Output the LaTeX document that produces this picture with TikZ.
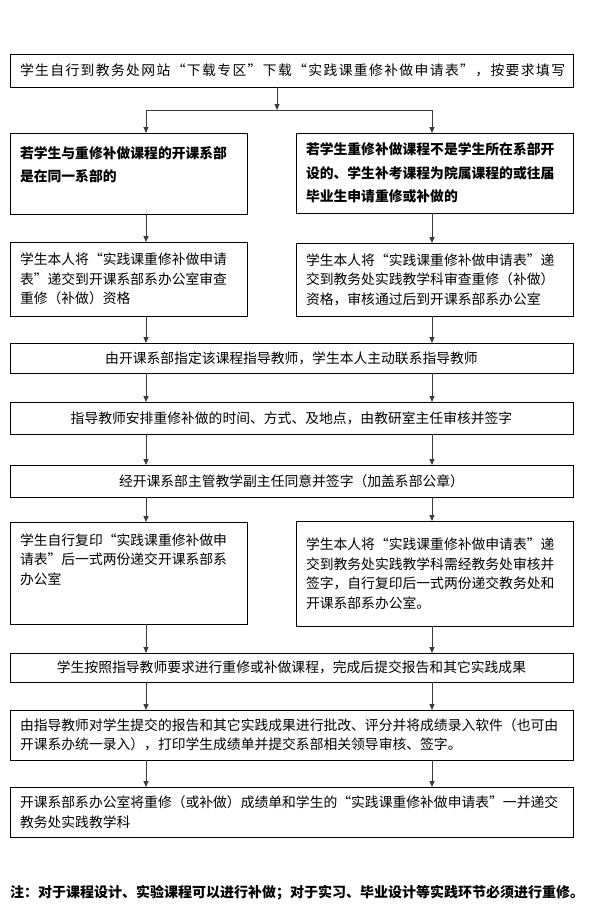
\documentclass[tikz,border=0pt]{standalone}
\usepackage{fontspec}
\setmainfont{Noto Sans CJK SC}
\usepackage{tikz}
\usetikzlibrary{
  arrows.meta,
  positioning
}
\definecolor{LineGray}{RGB}{60, 60, 60}

\begin{document}
\begin{tikzpicture}[
        x=1pt, y=-1pt,
        every node/.style={font=\fontsize{13.8}{19.5}\selectfont},
        % boxes of the flow chart, fixed widths
        box/.style={rectangle, draw=black, line width=0.8pt, outer sep=0pt, inner xsep=10pt, inner ysep=0pt, align=left},
        wide/.style={box, text width=543pt},
        lbox/.style={box, text width=217pt},
        rbox/.style={box, text width=257pt},
        strong/.style={font=\fontsize{13.8}{23.5}\selectfont\bfseries},
        arrow/.style={draw=LineGray, line width=0.8pt, -{Triangle[width=5pt,length=6pt]}}
    ]

    \path[fill=white] (0,0) rectangle (590,921);

    % columns of the connectors
    \coordinate (lcol) at (146,0);
    \coordinate (rcol) at (432,0);
    \coordinate (mcol) at (277,0);
    \coordinate (split) at (277,110);

    % Top node
    \node[wide, align=center, minimum height=33pt, anchor=north west] (apply) at (10,54)
        {\addfontfeatures{LetterSpace=10}学生自行到教务处网站“下载专区”下载“实践课重修补做申请表”，按要求填写};

    % Two cases
    \node[lbox, strong, text height=25pt, text depth=56pt, below=46pt of apply.south west, anchor=north west] (l2)
        {若学生与重修补做课程的开课系部\\是在同一系部的};
    \node[rbox, strong, minimum height=80pt, below=46pt of apply.south east, anchor=north east] (r2)
        {若学生重修补做课程不是学生所在系部开\\设的、学生补考课程为院属课程的或往届\\毕业生申请重修或补做的};

    \node[lbox, minimum height=74pt, below=28pt of l2.south west, anchor=north west] (l3)
        {学生本人将“实践课重修补做申请\\表”递交到开课系部系办公室审查\\重修（补做）资格};
    \node[rbox, minimum height=73pt, below=30pt of r2.south east, anchor=north east] (r3)
        {学生本人将“实践课重修补做申请表”递\\交到教务处实践教学科审查重修（补做）\\资格，审核通过后到开课系部系办公室};

    % Common steps
    \node[wide, align=center, minimum height=30pt, below=27pt of l3.south west, anchor=north west] (b4)
        {由开课系部指定该课程指导教师，学生本人主动联系指导教师};
    \node[wide, align=center, minimum height=32pt, below=29pt of b4] (b5)
        {指导教师安排重修补做的时间、方式、及地点，由教研室主任审核并签字};
    \node[wide, align=center, minimum height=32pt, below=31pt of b5] (b6)
        {经开课系部主管教学副主任同意并签字（加盖系部公章）};

    \node[lbox, text height=23pt, text depth=79pt, below=25pt of b6.south west, anchor=north west] (l7)
        {学生自行复印“实践课重修补做申\\请表”后一式两份递交开课系部系\\办公室};
    \node[rbox, minimum height=105pt, below=24pt of b6.south east, anchor=north east] (r7)
        {学生本人将“实践课重修补做申请表”递\\交到教务处实践教学科需经教务处审核并\\签字，自行复印后一式两份递交教务处和\\开课系部系办公室。};

    \node[wide, align=center, minimum height=29pt, below=29pt of l7.south west, anchor=north west] (b8)
        {学生按照指导教师要求进行重修或补做课程，完成后提交报告和其它实践成果};
    \node[wide, minimum height=50pt, below=28pt of b8] (b9)
        {由指导教师对学生提交的报告和其它实践成果进行批改、评分并将成绩录入软件（也可由\\开课系办统一录入），打印学生成绩单并提交系部相关领导审核、签字。};
    \node[wide, minimum height=50pt, below=27pt of b9] (b10)
        {开课系部系办公室将重修（或补做）成绩单和学生的“实践课重修补做申请表”一并递交\\教务处实践教学科};

    % Note
    \node[anchor=west, inner sep=0pt, font=\fontsize{14}{16}\selectfont\bfseries] (note) at (10,893)
        {注：对于课程设计、实验课程可以进行补做；对于实习、毕业设计等实践环节必须进行重修。};

    % Arrows
    \draw[arrow] (apply.south -| mcol) -- (split);
    \draw[arrow] (split) -| (l2.north -| lcol);
    \draw[arrow] (split) -| (r2.north -| rcol);
    \draw[arrow] (l2.south -| lcol) -- (l3.north -| lcol);
    \draw[arrow] (r2.south -| rcol) -- (r3.north -| rcol);
    \draw[arrow] (l3.south -| lcol) -- (b4.north -| lcol);
    \draw[arrow] (r3.south -| rcol) -- (b4.north -| rcol);
    \draw[arrow] (b4.south -| lcol) -- (b5.north -| lcol);
    \draw[arrow] (b4.south -| rcol) -- (b5.north -| rcol);
    \draw[arrow] (b5.south -| lcol) -- (b6.north -| lcol);
    \draw[arrow] (b5.south -| rcol) -- (b6.north -| rcol);
    \draw[arrow] (b6.south -| lcol) -- (l7.north -| lcol);
    \draw[arrow] (b6.south -| rcol) -- (r7.north -| rcol);
    \draw[arrow] (l7.south -| lcol) -- (b8.north -| lcol);
    \draw[arrow] (r7.south -| rcol) -- (b8.north -| rcol);
    \draw[arrow] (b8.south -| lcol) -- (b9.north -| lcol);
    \draw[arrow] (b8.south -| rcol) -- (b9.north -| rcol);
    \draw[arrow] (b9.south -| lcol) -- (b10.north -| lcol);
    \draw[arrow] (b9.south -| rcol) -- (b10.north -| rcol);

    \useasboundingbox (0,0) rectangle (590,921);
\end{tikzpicture}
\end{document}
